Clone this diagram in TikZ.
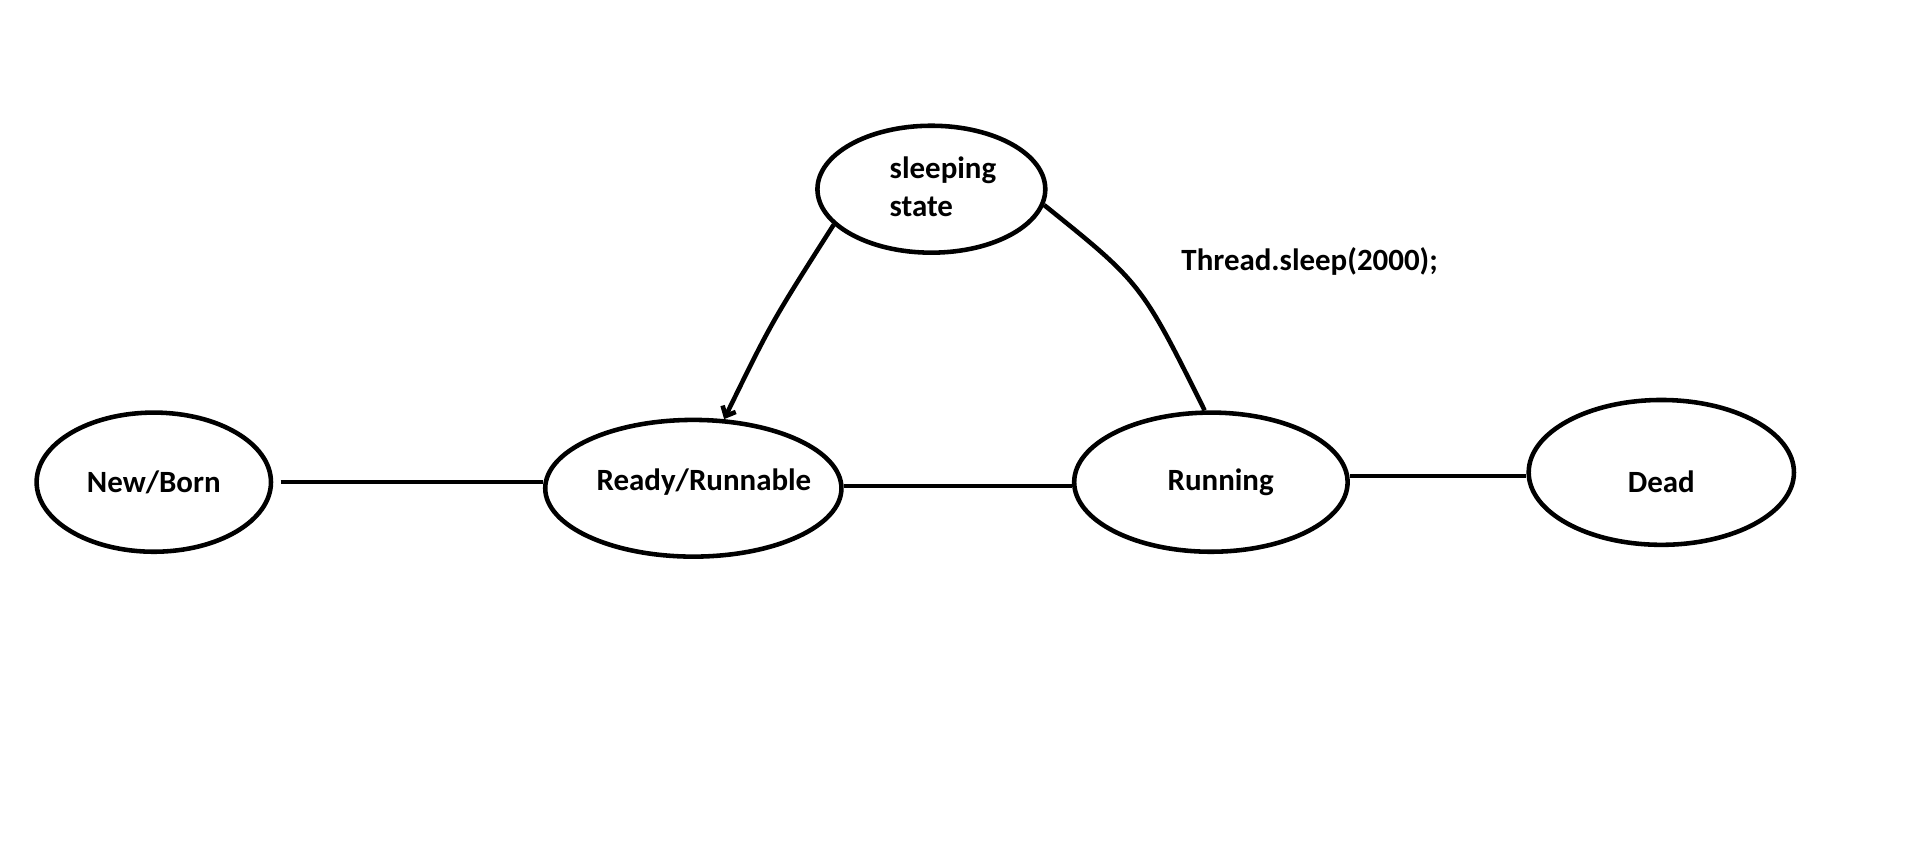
\documentclass[tikz,border=0pt]{standalone}
\usepackage{fontspec}
\setmainfont{Carlito}
\usetikzlibrary{shapes.geometric,arrows.meta}

\tikzset{every picture/.style={line width=2.8pt}}
\tikzset{
  statebox/.style={draw, ellipse, inner sep=0pt, font=\fontsize{19}{23}\selectfont\bfseries},
  labeltext/.style={inner sep=0pt, font=\fontsize{19}{23}\selectfont\bfseries}
}

\begin{document}
\begin{tikzpicture}[x=0.75pt,y=0.75pt,yscale=-1,xscale=1]
\useasboundingbox (0,0) rectangle (1568,710);

%Shape: Ellipse [id:newborn]
\node [statebox, minimum width=144pt, minimum height=85.5pt] (newborn) at (126,395) {New/Born};
%Shape: Ellipse [id:ready]
\node [statebox, minimum width=182pt, minimum height=84pt, label={[labeltext, xshift=6.5pt, yshift=3.5pt]center:Ready/Runnable}] (ready) at (568,400) {};
%Shape: Ellipse [id:running]
\node [statebox, minimum width=168pt, minimum height=85.5pt, label={[labeltext, xshift=6pt]center:Running}] (running) at (992,395) {};
%Shape: Ellipse [id:dead]
\node [statebox, minimum width=163pt, minimum height=89pt, label={[labeltext, yshift=-6pt]center:Dead}] (dead) at (1361,387) {};
%Shape: Ellipse [id:sleeping]
\node [statebox, minimum width=140pt, minimum height=78pt] (sleeping) at (763,155) {};

% Text Node
\node [labeltext, anchor=west, align=left] (sleeptext) at (727,153) {sleeping\\state};
% Text Node
\node [labeltext, anchor=west] (sleepcall) at (966,214) {Thread.sleep(2000);};

%Straight Lines [id:newready]
\draw ([xshift=4.5pt]newborn.east) -- (newborn.east -| ready.west) ;
%Straight Lines [id:readyrun]
\draw ([yshift=-1.5pt]ready.east) -- ([yshift=-1.5pt]ready.east -| running.west) ;
%Straight Lines [id:rundead]
\draw ([yshift=2.2pt]dead.west -| running.east) -- ([yshift=2.2pt]dead.west) ;
%Curve Lines [id:sleepready]
\draw [-{Straight Barb[length=5pt,width=9pt]}] (sleeping.200) .. controls (632,264) .. (ready.66) ;
%Curve Lines [id:runsleep]
\draw (sleeping.-8) .. controls (935,232) .. (running.95) ;

\end{tikzpicture}
\end{document}
